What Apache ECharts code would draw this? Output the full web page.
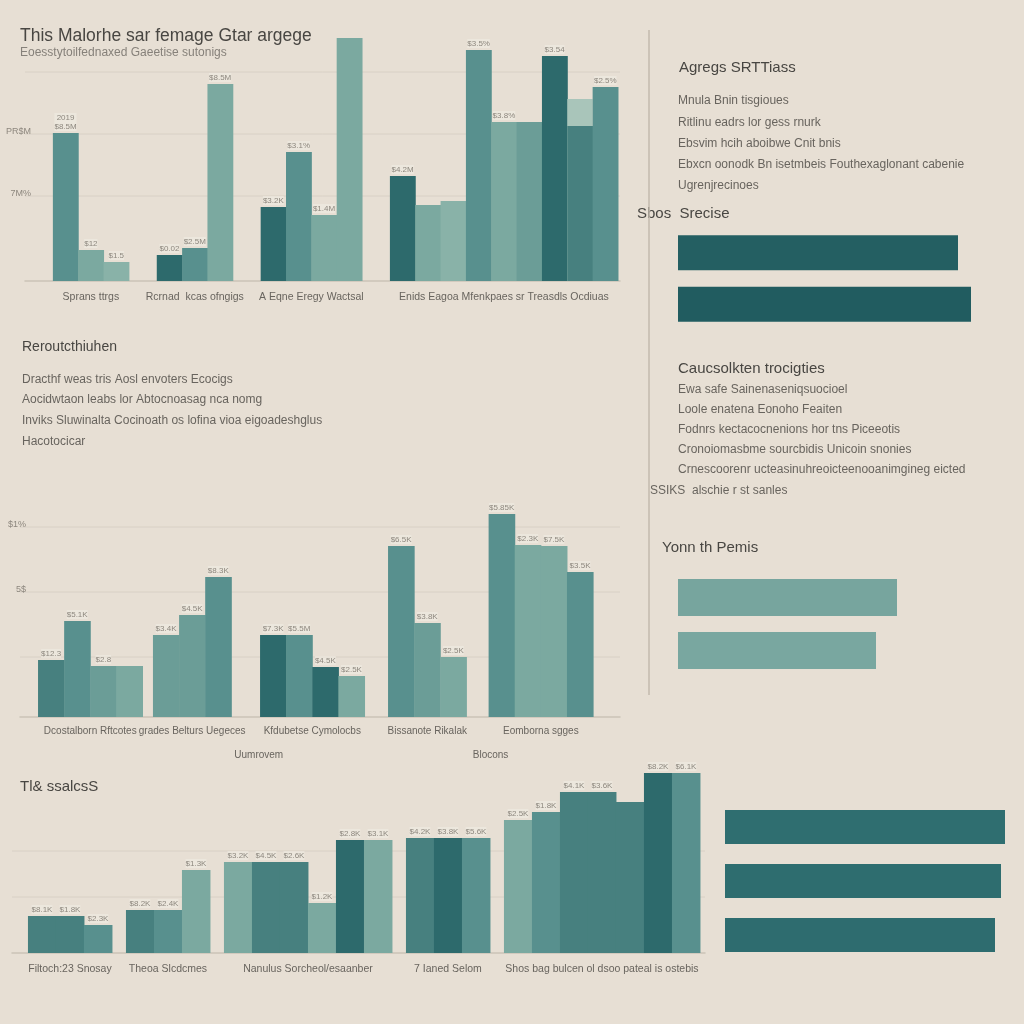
<!DOCTYPE html>
<html><head><meta charset="utf-8">
<script src="https://cdn.jsdelivr.net/npm/echarts/dist/echarts.min.js"></script>
<style>html,body{margin:0;padding:0;background:#e7dfd4}#c{width:1024px;height:1024px}</style>
</head><body><div id="c"></div>
<script>
// ---------------- DATA ----------------
const p1Groups = ['Sprans ttrgs', 'Rcrnad  kcas ofngigs', 'A Eqne Eregy Wactsal', 'Enids Eagoa Mfenkpaes sr Treasdls Ocdiuas'];
const p1Values = [[148, 31, 19], [26, 33, 197], [74, 129, 66, 243], [105, 76, 80, 231, 159, 159, 225, 155, 194]];
const p1Ghost  = [[null, null, null], [null, null, null], [null, null, null, null], [null, null, null, null, null, null, null, 182, null]];
const p1Labels = [['2019\n$8.5M', '$12', '$1.5'], ['$0.02', '$2.5M', '$8.5M'], ['$3.2K', '$3.1%', '$1.4M', ''], ['$4.2M', '', '', '$3.5%', '$3.8%', '', '$3.54', '', '$2.5%']];
const p1TickValues = [209, 147, 85];
const p1TickLabels = ['', 'PR$M', '7M%'];

const p2Groups = ['Dcostalborn Rftcotes', 'grades Belturs Uegeces', 'Kfdubetse Cymolocbs', 'Bissanote Rikalak', 'Eomborna sgges'];
const p2Super  = ['Uumrovem', 'Blocons'];
const p2Values = [[57, 96, 51, 51], [82, 102, 140], [82, 82, 50, 41], [171, 94, 60], [203, 172, 171, 145]];
const p2Labels = [['$12.3', '$5.1K', '$2.8', ''], ['$3.4K', '$4.5K', '$8.3K'], ['$7.3K', '$5.5M', '$4.5K', '$2.5K'], ['$6.5K', '$3.8K', '$2.5K'], ['$5.85K', '$2.3K', '$7.5K', '$3.5K']];
const p2TickValues = [190, 125, 60];
const p2TickLabels = ['$1%', '5$', ''];

const p3Title  = 'Tl& ssalcsS';
const p3Groups = ['Filtoch:23 Snosay', 'Theoa Slcdcmes', 'Nanulus Sorcheol/esaanber', '7 Ianed Selom', 'Shos bag bulcen ol dsoo pateal is ostebis'];
const p3Values = [[37, 37, 28], [43, 43, 83], [91, 91, 91, 50, 113, 113], [115, 115, 115], [133, 141, 161, 161, 151, 180, 180]];
const p3Labels = [['$8.1K', '$1.8K', '$2.3K'], ['$8.2K', '$2.4K', '$1.3K'], ['$3.2K', '$4.5K', '$2.6K', '$1.2K', '$2.8K', '$3.1K'], ['$4.2K', '$3.8K', '$5.6K'], ['$2.5K', '$1.8K', '$4.1K', '$3.6K', '', '$8.2K', '$6.1K']];
const p3TickValues = [102, 56];

const r1Title = 'Sbos  Srecise';
const r1Cats = ['Sbos A', 'Sbos B'];
const r1Values = [280, 293];
const r2Title = 'Yonn th Pemis';
const r2Cats = ['Pemis A', 'Pemis B'];
const r2Values = [219, 198];
const r3Cats = ['Tl A', 'Tl B', 'Tl C'];
const r3Values = [280, 276, 270];

const titleText = 'This Malorhe sar femage Gtar argege';
const subtitleText = 'Eoesstytoilfednaxed Gaeetise sutonigs';
const leftHead = 'Reroutcthiuhen';
const leftLines = ['Dracthf weas tris Aosl envoters Ecocigs', 'Aocidwtaon leabs lor Abtocnoasag nca nomg', 'Inviks Sluwinalta Cocinoath os lofina vioa eigoadeshglus', 'Hacotocicar'];
const rHead1 = 'Agregs SRTTiass';
const rLines1 = ['Mnula Bnin tisgioues', 'Ritlinu eadrs lor gess rnurk', 'Ebsvim hcih aboibwe Cnit bnis', 'Ebxcn oonodk Bn isetmbeis Fouthexaglonant cabenie', 'Ugrenjrecinoes'];
const rHead2 = 'Caucsolkten trocigties';
const rLines2 = ['Ewa safe Sainenaseniqsuocioel', 'Loole enatena Eonoho Feaiten', 'Fodnrs kectacocnenions hor tns Piceeotis', 'Cronoiomasbme sourcbidis Unicoin snonies', 'Crnescoorenr ucteasinuhreoicteenooanimgineg eicted'];
const rTail2 = 'SSIKS  alschie r st sanles';

// ---------------- STYLE ----------------
const PAL = ['#2d6a6c', '#47807f', '#58908e', '#6b9d97', '#7ba9a0', '#89b2a8'];
const p1Col = [[2, 4, 5], [0, 2, 4], [0, 2, 4, 4], [0, 4, 5, 2, 4, 3, 0, 1, 2]];
const p2Col = [[1, 2, 3, 4], [3, 3, 2], [0, 2, 0, 4], [2, 3, 4], [2, 4, 4, 2]];
const p3Col = [[1, 1, 2], [1, 2, 4], [4, 1, 1, 4, 0, 4], [1, 0, 2], [4, 2, 1, 1, 1, 0, 2]];
const FONT = "'Liberation Sans', 'DejaVu Sans', sans-serif";
const TXT = '#68645e', HEAD = '#484642', TICK = '#8d877e';

// layout per panel: grid box, gaps between groups, side padding (in bar units), y max
const panels = [
  {grid: {left: 25, right: 404, top: 36, bottom: 743}, gaps: [1.1, 1.1, 1.1], padL: 1.1, padR: 0.08, yMax: 245, labFont: 10.5,
   groups: p1Groups, values: p1Values, ghost: p1Ghost, labels: p1Labels, col: p1Col, ticks: p1TickValues, tickLabels: p1TickLabels, labOff: 16},
  {grid: {left: 20, right: 404, top: 500, bottom: 307}, gaps: [0.4, 1.1, 0.9, 0.85], padL: 0.69, padR: 1.03, yMax: 217, labFont: 10,
   groups: p2Groups, values: p2Values, labels: p2Labels, col: p2Col, ticks: p2TickValues, tickLabels: p2TickLabels, labOff: 14,
   supers: [{name: p2Super[0], from: 1, to: 2}, {name: p2Super[1], from: 3, to: 4}]},
  {grid: {left: 12, right: 319, top: 770, bottom: 71}, gaps: [0.5, 0.5, 0.5, 0.5], padL: 0.57, padR: 0.18, yMax: 183, labFont: 10.5,
   groups: p3Groups, values: p3Values, labels: p3Labels, col: p3Col, ticks: p3TickValues, tickLabels: p3TickValues.map(() => ''), labOff: 16}
];

const grids = [], xAxes = [], yAxes = [], series = [];

panels.forEach((P, n) => {
  const items = []; const gSpan = [];
  let pos = 0;
  P.values.forEach((grp, k) => {
    const s = pos;
    grp.forEach((v, j) => {
      items.push({v, x0: pos, x1: pos + 1, color: PAL[P.col[k][j]], label: P.labels[k][j],
                  ghost: P.ghost ? P.ghost[k][j] : null});
      pos += 1;
    });
    gSpan.push([s, pos]);
    if (k < P.values.length - 1) pos += P.gaps[k];
  });
  const total = pos;
  const xMin = -P.padL, xMax = total + P.padR;
  grids.push(Object.assign({containLabel: false}, P.grid));
  xAxes.push({gridIndex: n, type: 'value', min: xMin, max: xMax,
    axisLine: {show: true, onZero: false, lineStyle: {color: '#cbc3b7', width: 1.5}},
    axisTick: {show: false}, axisLabel: {show: false}, splitLine: {show: false}});
  yAxes.push({gridIndex: n, type: 'value', min: 0, max: P.yMax, show: false, splitLine: {show: false}});

  // gridlines + tick labels
  series.push({type: 'custom', xAxisIndex: n, yAxisIndex: n, silent: true, z: 1,
    data: P.ticks.map(v => [v]), encode: {y: 0},
    renderItem: (params, api) => {
      const v = api.value(0);
      const a = api.coord([xMin, v]), b = api.coord([xMax, v]);
      const lab = P.tickLabels[params.dataIndex];
      return {type: 'group', children: [
        {type: 'line', shape: {x1: a[0], y1: a[1], x2: b[0], y2: b[1]}, style: {stroke: '#d8d0c5', lineWidth: 1}},
        {type: 'text', style: {text: lab, x: a[0] + 6, y: a[1] - 2, align: 'right', textAlign: 'right', verticalAlign: 'middle', textVerticalAlign: 'middle', font: '9px ' + FONT, fill: TICK}}
      ]};
    }});

  // bars
  series.push({type: 'custom', xAxisIndex: n, yAxisIndex: n, z: 2,
    data: items.map(it => [it.x0, it.x1, it.v]), encode: {x: [0, 1], y: 2},
    renderItem: (params, api) => {
      const it = items[params.dataIndex];
      const p0 = api.coord([api.value(0), api.value(2)]);
      const p1 = api.coord([api.value(1), 0]);
      const ch = [];
      if (it.ghost != null) {
        const g = api.coord([api.value(0), it.ghost]);
        ch.push({type: 'rect', shape: {x: g[0], y: g[1], width: p1[0] - g[0], height: p1[1] - g[1]}, style: {fill: '#a9c5ba'}});
      }
      ch.push({type: 'rect', shape: {x: p0[0], y: p0[1], width: p1[0] - p0[0] + 0.5, height: p1[1] - p0[1]}, style: {fill: it.color}});
      if (it.label) {
        ch.push({type: 'text', style: {text: it.label, x: (p0[0] + p1[0]) / 2, y: p0[1] - 2, align: 'center', textAlign: 'center',
          verticalAlign: 'bottom', textVerticalAlign: 'bottom', font: '8px ' + FONT, fill: TICK, lineHeight: 9,
          backgroundColor: 'rgba(240,236,228,0.55)'}});
      }
      return {type: 'group', children: ch};
    }});

  // group labels
  const labItems = gSpan.map((s, k) => ({c: (s[0] + s[1]) / 2, t: P.groups[k], lvl: 0}));
  (P.supers || []).forEach(sp => labItems.push({c: (gSpan[sp.from][0] + gSpan[sp.to][1]) / 2, t: sp.name, lvl: 1}));
  series.push({type: 'custom', xAxisIndex: n, yAxisIndex: n, silent: true, z: 3,
    data: labItems.map(l => [l.c]), encode: {x: 0},
    renderItem: (params, api) => {
      const l = labItems[params.dataIndex];
      const p = api.coord([api.value(0), 0]);
      return {type: 'text', style: {text: l.t, x: p[0], y: p[1] + P.labOff + l.lvl * 24, align: 'center', textAlign: 'center',
        verticalAlign: 'middle', textVerticalAlign: 'middle', font: P.labFont + 'px ' + FONT, fill: TXT}};
    }});
});

// horizontal bar panels
const hb = [
  {grid: {left: 678, right: 0, top: 227, height: 103}, max: 346, cats: r1Cats, values: r1Values, bw: 35, colors: ['#245f62', '#215c60']},
  {grid: {left: 678, right: 0, top: 571, height: 106}, max: 346, cats: r2Cats, values: r2Values, bw: 37, colors: ['#77a59e', '#79a7a0']},
  {grid: {left: 725, right: 0, top: 800, height: 162}, max: 299, cats: r3Cats, values: r3Values, bw: 34, colors: ['#2f6e70', '#2e6d6f', '#2e6c6f']}
];
hb.forEach(H => {
  const n = grids.length;
  grids.push(H.grid);
  xAxes.push({gridIndex: n, type: 'value', min: 0, max: H.max, show: false, splitLine: {show: false}});
  yAxes.push({gridIndex: n, type: 'category', data: H.cats, inverse: true, show: false});
  series.push({type: 'bar', xAxisIndex: n, yAxisIndex: n, barWidth: H.bw,
    data: H.values.map((v, i) => ({value: v, itemStyle: {color: H.colors[i]}}))});
});

// texts
const T = (text, x, y, size, fill, extra) => Object.assign({type: 'text', x, y, silent: true,
  style: {text, font: size + 'px ' + FONT, fill, verticalAlign: 'middle', textVerticalAlign: 'middle'}}, extra || {});
const texts = [
  T(titleText, 20, 36, 17.5, HEAD),
  T(subtitleText, 20, 53, 12, '#86817a'),
  T(leftHead, 22, 347, 14, HEAD),
  T(p3Title, 20, 787, 15, HEAD),
  T(rHead1, 679, 68, 15, HEAD),
  T(r1Title, 637, 214, 15, HEAD),
  T(rHead2, 678, 369, 15, HEAD),
  T(rTail2, 650, 491, 12, TXT),
  T(r2Title, 662, 548, 15, HEAD)
];
leftLines.forEach((s, i) => texts.push(T(s, 22, [380, 400, 421, 442][i], 12, TXT)));
rLines1.forEach((s, i) => texts.push(T(s, 678, [101, 123, 144, 165, 186][i], 12, TXT)));
rLines2.forEach((s, i) => texts.push(T(s, 678, [390, 410, 430, 450, 470][i], 12, TXT)));
texts.push({type: 'line', silent: true, shape: {x1: 649, y1: 30, x2: 649, y2: 695}, style: {stroke: '#c3baae', lineWidth: 1.5}});

const chart = echarts.init(document.getElementById('c'), null, {renderer: 'canvas'});
chart.setOption({
  backgroundColor: '#e7dfd4',
  animation: false,
  grid: grids, xAxis: xAxes, yAxis: yAxes, series,
  graphic: {elements: texts}
});
</script></body></html>
